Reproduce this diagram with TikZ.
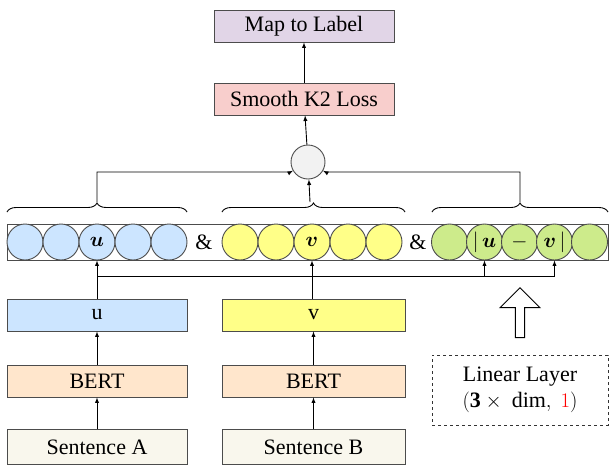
\documentclass[tikz,border=0pt]{standalone}
\usepackage{fontspec}
\setmainfont{Liberation Serif}
\usepackage{amsmath}
\usetikzlibrary{decorations.pathreplacing,shapes.arrows}
\definecolor{cLab}{HTML}{E1D5E7}
\definecolor{cLoss}{HTML}{F8CECC}
\definecolor{cBlue}{HTML}{CCE5FF}
\definecolor{cYel}{HTML}{FFFF88}
\definecolor{cBert}{HTML}{FFE6CC}
\definecolor{cSent}{HTML}{F9F7ED}
\definecolor{cGreen}{HTML}{CDEB8B}
\begin{document}
\begin{tikzpicture}[x=1pt,y=-1pt,font=\fontsize{22}{26}\selectfont,line width=0.9pt,
  box/.style={draw=black!70,minimum width=180pt,minimum height=32pt,inner sep=0pt},
  cir/.style={circle,draw=black!70,minimum size=36pt,inner sep=0pt},
  arr/.style={-latex,draw=black},
  br/.style={decorate,decoration={brace,amplitude=9pt},draw=black}]
\useasboundingbox (0,0) rectangle (614,472);
\node[box,fill=cLab] (lab) at (304,26) {Map to Label};
\node[box,fill=cLoss] (loss) at (304,99) {Smooth K2 Loss};
\node[circle,draw=black!70,fill=black!5,minimum size=34pt] (c) at (308,162) {};
\node[draw=black!70,minimum width=601pt,minimum height=36pt,inner sep=0pt] (row) at (307.5,242) {};
\foreach \i in {0,...,4}{
  \node[cir,fill=cBlue] (b\i) at (25+36*\i,242) {};
  \node[cir,fill=cYel] (y\i) at (240+36*\i,242) {};
  \node[cir,fill=cGreen] (g\i) at (449.5+35*\i,242) {};
}
\node at (b2) {$\boldsymbol{u}$};
\node at (y2) {$\boldsymbol{v}$};
\node at (g1) {$|\,\boldsymbol{u}$};
\node at (g2) {$-$};
\node at (g3) {$\boldsymbol{v}\,|$};
\node (amp1) at (204,242) {\&};
\node (amp2) at (418,242) {\&};
\draw[br] (7,212) -- (187,212);
\draw[br] (222,212) -- (405,212);
\draw[br] (432,212) -- (608,212);
\coordinate (k1) at (97,202);
\coordinate (k2) at (310,202);
\coordinate (k3) at (520,202);
\draw[arr] (k1) |- (c.west |- 0,172) -- (c);
\draw[arr] (k3) |- (c.east |- 0,172) -- (c);
\draw[arr] (k2) -- (c);
\draw[arr] (c) -- (loss);
\draw[arr] (loss) -- (lab);
\node[box,fill=cBlue] (u) at (97,315) {u};
\node[box,fill=cYel,minimum width=183pt] (v) at (313.5,315) {v};
\node[box,fill=cBert] (bert1) at (97,381) {BERT};
\node[box,fill=cBert,minimum width=183pt] (bert2) at (313.5,381) {BERT};
\node[box,fill=cSent,minimum height=35pt] (s1) at (97,447) {Sentence A};
\node[box,fill=cSent,minimum width=183pt,minimum height=35pt] (s2) at (313.5,447) {Sentence B};
\draw[arr] (s1) -- (bert1);
\draw[arr] (bert1) -- (u);
\draw[arr] (s2) -- (bert2);
\draw[arr] (bert2) -- (v);
\draw[arr] (u.north -| b2) -- (b2.south |- row.south);
\draw[arr] (v.north -| y2) -- (y2.south |- row.south);
\coordinate (h) at (97,276);
\draw[arr] (h) -| (g1.south |- row.south);
\draw[arr] (h) -| (g3.south |- row.south);
\node[single arrow,draw=black,fill=white,shape border rotate=90,minimum height=50pt,minimum width=40pt,single arrow head extend=8pt,inner sep=2pt] (big) at (520,315) {};
\node[draw=black!80,dashed,minimum width=176pt,minimum height=70pt,align=center] (lin) at (520,390) {Linear Layer\\[0pt]$(\mathbf{3}\times\ \mathrm{dim},\ {\color{red}1})$};
\end{tikzpicture}
\end{document}
